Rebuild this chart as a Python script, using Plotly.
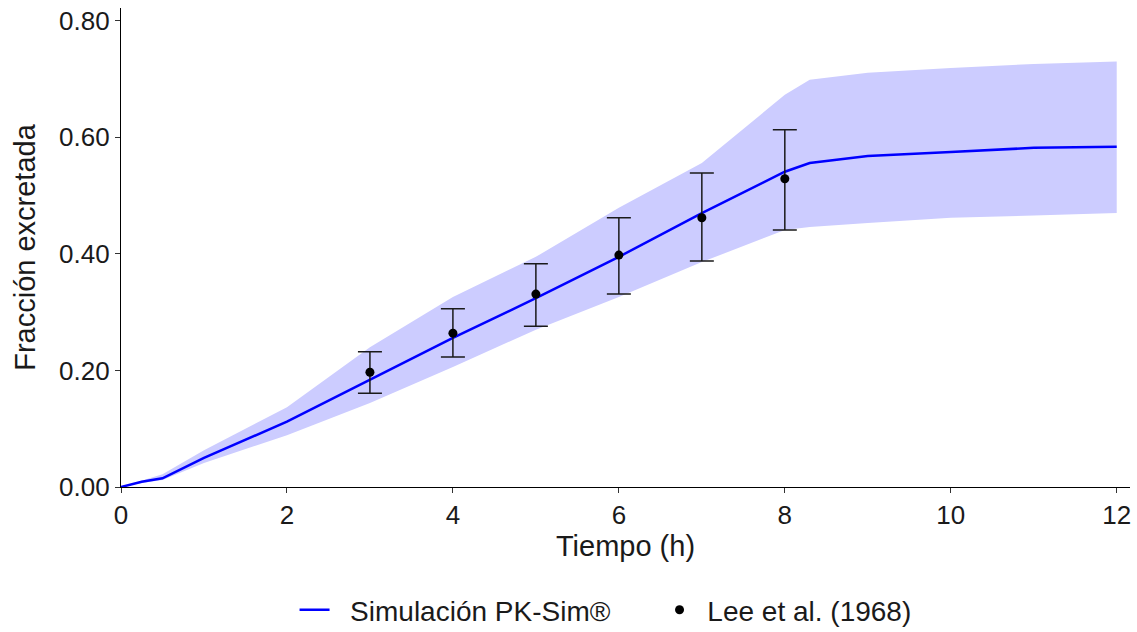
import plotly.graph_objects as go

# Simulation (median) and 5-95% band
sim_t = [0, 0.25, 0.5, 1, 2, 3, 4, 5, 6, 7, 8, 8.3, 9, 10, 11, 12]
sim_med = [0, 0.009, 0.015, 0.05, 0.112, 0.184, 0.256, 0.324, 0.395, 0.470, 0.541, 0.556, 0.568, 0.575, 0.582, 0.584]
sim_upper = [0, 0.011, 0.022, 0.063, 0.137, 0.240, 0.326, 0.395, 0.479, 0.556, 0.673, 0.699, 0.711, 0.719, 0.726, 0.730]
sim_lower = [0, 0.007, 0.012, 0.041, 0.089, 0.144, 0.206, 0.270, 0.326, 0.386, 0.441, 0.446, 0.453, 0.462, 0.466, 0.470]

# Observed data (Lee et al. 1968)
obs_t = [3, 4, 5, 6, 7, 8]
obs_y = [0.197, 0.264, 0.331, 0.398, 0.462, 0.529]
obs_hi = [0.232, 0.306, 0.383, 0.462, 0.539, 0.613]
obs_lo = [0.161, 0.223, 0.276, 0.331, 0.388, 0.441]

err_plus = [h - y for h, y in zip(obs_hi, obs_y)]
err_minus = [y - l for l, y in zip(obs_lo, obs_y)]

FONT = "Liberation Sans, Arial, sans-serif"
TXT = "#1a1a1a"

fig = go.Figure()
fig.add_trace(go.Scatter(x=sim_t, y=sim_lower, mode="lines", line=dict(width=0, color="rgba(0,0,0,0)"),
                         showlegend=False, hoverinfo="skip"))
fig.add_trace(go.Scatter(x=sim_t, y=sim_upper, mode="lines", line=dict(width=0, color="rgba(0,0,0,0)"),
                         fill="tonexty", fillcolor="rgb(204,204,255)", showlegend=False, hoverinfo="skip"))
fig.add_trace(go.Scatter(x=sim_t, y=sim_med, mode="lines", line=dict(color="#0000FF", width=2.5),
                         name="\u00a0\u00a0Simulación PK-Sim®", legendrank=1))
fig.add_trace(go.Scatter(x=obs_t, y=obs_y, mode="markers", marker=dict(color="black", size=9),
                         error_y=dict(type="data", symmetric=False, array=err_plus, arrayminus=err_minus,
                                      color=TXT, thickness=1.5, width=12),
                         name="\u00a0Lee et al. (1968)", legendrank=2))

fig.update_layout(
    width=1137, height=632,
    margin=dict(l=121, r=7, t=8, b=145, autoexpand=False),
    paper_bgcolor="white", plot_bgcolor="white",
    font=dict(family=FONT, size=26, color=TXT),
    legend=dict(orientation="h", x=0.172, xanchor="left", y=-0.257, yanchor="middle",
                font=dict(size=28, color=TXT), entrywidth=320, traceorder="normal"),
    xaxis=dict(range=[0, 12.16], tickvals=[0, 2, 4, 6, 8, 10, 12], showgrid=False, zeroline=False,
               showline=True, linecolor="black", linewidth=1.2, ticks="outside", ticklen=5,
               tickcolor="#333", tickfont=dict(size=26, color=TXT),
               title=dict(text="Tiempo (h)", font=dict(size=29, color=TXT), standoff=6)),
    yaxis=dict(range=[0, 0.822], tickvals=[0, 0.2, 0.4, 0.6, 0.8], tickformat=".2f", showgrid=False,
               zeroline=False, showline=True, linecolor="black", linewidth=1.2, ticks="outside",
               ticklen=5, tickcolor="#333", tickfont=dict(size=26, color=TXT),
               title=dict(text="Fracción excretada", font=dict(size=29, color=TXT), standoff=14)),
)

fig.write_html("out.html")
